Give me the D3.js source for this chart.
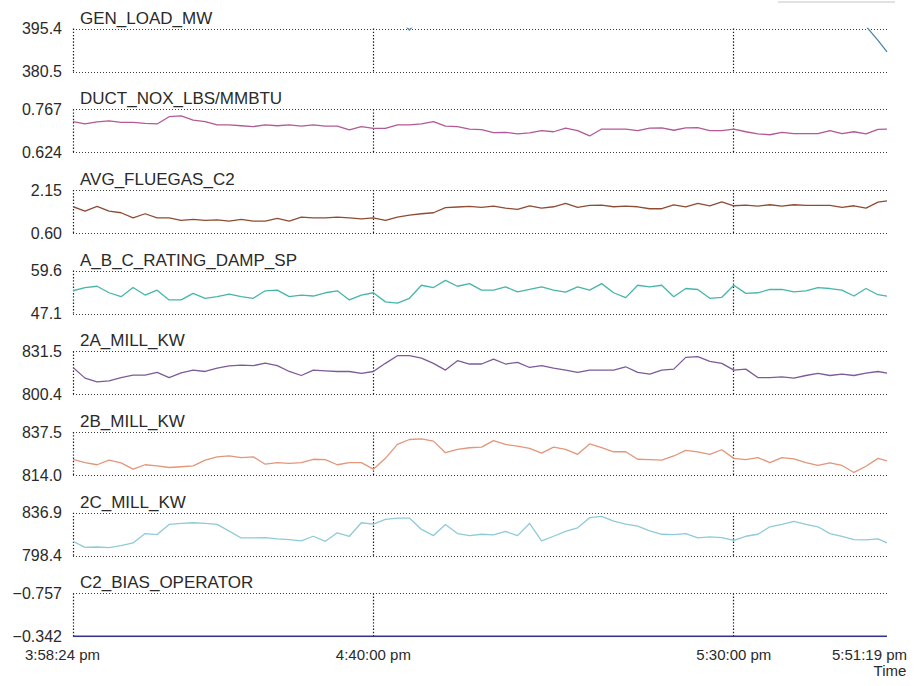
<!DOCTYPE html>
<html><head><meta charset="utf-8">
<script src="https://cdn.jsdelivr.net/npm/d3@7"></script>
<style>body{margin:0;background:#fff;} svg{display:block;}</style>
</head><body><svg id="chart" width="920" height="686"></svg>
<script>
// ---------- DATA ----------
const panelNames = ["GEN_LOAD_MW","DUCT_NOX_LBS/MMBTU","AVG_FLUEGAS_C2","A_B_C_RATING_DAMP_SP","2A_MILL_KW","2B_MILL_KW","2C_MILL_KW","C2_BIAS_OPERATOR"];
const topLabels = ["395.4","0.767","2.15","59.6","831.5","837.5","836.9","\u22120.757"];
const bottomLabels = ["380.5","0.624","0.60","47.1","800.4","814.0","798.4","\u22120.342"];
const topValues = [395.4,0.767,2.15,59.6,831.5,837.5,836.9,-0.757];
const bottomValues = [380.5,0.624,0.60,47.1,800.4,814.0,798.4,-0.342];
const seriesColors = ["#4f86a8","#b25a95","#8e4c33","#47b6aa","#7c5b98","#e2967a","#8fcad8","#34348a"];
const timeTickLabels = ["3:58:24 pm","4:40:00 pm","5:30:00 pm","5:51:19 pm"];
const gridTimeLabels = ["3:58:24","4:40:00","5:30:00"];
const startTime = new Date(2000,0,1,15,58,24);
const endTime = new Date(2000,0,1,17,51,19);
const sampleIntervalSec = 100; // samples every 100 s, last sample at end time

const genLoad = [400.1,400.4,399.8,400.6,401.0,400.3,399.9,400.5,400.8,400.2,
 399.7,400.1,400.6,400.9,400.3,399.8,400.2,400.7,400.4,399.9,
 400.3,400.8,400.1,399.6,400.0,400.4,399.8,399.0,394.9,399.2,
 400.1,400.5,400.9,401.2,400.8,400.3,400.6,401.0,400.7,400.2,
 399.9,400.4,400.8,400.5,400.1,399.8,400.2,400.6,400.9,400.4,
 400.0,400.3,400.7,401.1,400.8,400.2,399.9,400.3,400.6,400.2,
 399.8,400.1,400.4,399.9,399.5,398.2,396.2,391.3,387.3];
const ductNox = [0.726,0.718,0.725,0.728,0.723,0.723,0.720,0.718,0.742,0.745,0.731,0.726,0.715,0.715,0.712,0.709,0.715,0.712,0.715,0.711,0.715,0.711,0.711,0.698,0.709,0.703,0.703,0.715,0.715,0.718,0.726,0.711,0.709,
 0.701,0.699,0.689,0.690,0.685,0.688,0.696,0.692,0.704,0.696,0.678,0.701,0.701,0.701,0.696,0.704,0.705,0.697,0.705,0.706,0.696,0.696,0.701,0.692,0.685,0.682,0.690,0.686,0.686,0.686,0.696,0.686,0.692,0.685,0.700,0.701];
const avgFluegas = [1.545,1.387,1.557,1.387,1.327,1.145,1.290,1.145,1.145,1.048,1.084,1.048,1.072,1.024,1.084,1.024,1.024,1.121,1.024,1.169,1.145,1.145,1.169,1.145,1.109,1.145,1.048,1.169,1.242,1.290,1.327,1.508,1.533,
 1.554,1.518,1.566,1.494,1.447,1.578,1.494,1.542,1.661,1.518,1.590,1.602,1.542,1.566,1.542,1.471,1.471,1.614,1.542,1.661,1.578,1.721,1.578,1.602,1.566,1.614,1.566,1.614,1.590,1.590,1.590,1.518,1.578,1.494,1.709,1.757];
const ratingDamp = [53.73,54.68,55.05,53.16,52.02,54.68,52.50,53.92,51.08,51.08,52.97,51.55,52.02,52.78,52.02,51.55,53.73,53.92,52.02,52.50,52.21,53.16,53.73,51.08,52.50,53.16,50.51,50.13,51.55,55.34,54.68,56.76,55.05,
 55.81,53.92,53.92,54.87,53.44,54.11,54.87,53.92,53.35,54.87,53.92,55.81,53.16,51.74,55.34,54.87,55.34,52.02,54.39,54.11,51.55,51.83,55.34,52.97,53.16,54.11,54.11,53.44,53.73,54.68,54.39,53.92,52.21,54.39,52.59,52.21];
const mill2A = [819.8,812.1,809.4,810.1,812.5,814.2,814.2,816.2,812.5,815.9,817.9,816.9,819.3,821.0,821.5,821.1,823.0,821.1,816.9,814.0,817.9,817.4,816.9,816.9,815.5,816.9,822.8,828.3,828.3,826.6,822.8,817.9,824.7,
 822.3,822.3,825.9,822.3,823.5,819.8,821.1,819.3,817.9,816.2,817.9,817.9,817.9,820.3,816.2,815.0,817.9,818.6,827.1,827.6,824.2,822.8,817.9,818.6,812.5,812.5,813.0,812.1,814.0,815.5,814.0,815.0,814.0,815.7,816.9,815.7];
const mill2B = [822.6,820.8,819.6,822.1,820.6,817.2,819.6,819.0,818.1,818.5,819.0,822.1,823.9,824.4,823.5,823.9,819.9,820.8,820.3,820.8,822.6,822.4,819.6,820.8,820.8,817.2,823.1,830.7,833.4,833.7,832.5,826.2,828.0,
 828.9,829.2,832.8,830.7,829.8,828.5,826.0,829.2,828.0,825.3,831.0,828.9,826.7,826.7,822.6,822.4,822.1,824.4,827.5,826.6,825.3,827.8,823.1,822.4,823.5,820.8,823.5,822.8,820.8,819.2,820.6,819.2,815.4,818.8,823.1,821.7];
const mill2C = [811.3,805.9,806.2,805.6,807.4,809.8,818.2,817.3,826.4,827.3,827.9,827.3,826.4,820.4,814.3,814.3,814.6,813.4,812.8,811.6,815.8,811.3,818.9,815.8,827.9,826.7,830.9,832.1,832.1,821.9,816.4,826.4,818.2,
 816.4,817.6,817.0,820.1,816.4,827.3,811.6,815.8,820.1,823.4,832.4,833.6,829.4,826.7,824.9,820.7,817.6,817.3,818.2,814.3,815.2,814.6,812.2,815.8,817.6,824.3,826.4,829.1,826.4,824.3,818.2,815.8,812.8,812.5,813.4,809.8];
const c2Bias = [-0.342,-0.342,-0.342,-0.342,-0.342,-0.342,-0.342,-0.342,-0.342,-0.342,
 -0.342,-0.342,-0.342,-0.342,-0.342,-0.342,-0.342,-0.342,-0.342,-0.342,
 -0.342,-0.342,-0.342,-0.342,-0.342,-0.342,-0.342,-0.342,-0.342,-0.342,
 -0.342,-0.342,-0.342,-0.342,-0.342,-0.342,-0.342,-0.342,-0.342,-0.342,
 -0.342,-0.342,-0.342,-0.342,-0.342,-0.342,-0.342,-0.342,-0.342,-0.342,
 -0.342,-0.342,-0.342,-0.342,-0.342,-0.342,-0.342,-0.342,-0.342,-0.342,
 -0.342,-0.342,-0.342,-0.342,-0.342,-0.342,-0.342,-0.342,-0.342];

// ---------- LAYOUT ----------
const series = [genLoad, ductNox, avgFluegas, ratingDamp, mill2A, mill2B, mill2C, c2Bias];
const FONT = "'Liberation Sans', Arial, sans-serif";
const left = 73, right = 887, top0 = 28.5, step = 80.7, ph = 43;

const parseClock = s => { const [h,m,sec] = s.split(":").map(Number); return new Date(2000,0,1,h+12,m,sec); };
const gridTimes = gridTimeLabels.map(parseClock);
const tickTimes = [startTime, gridTimes[1], gridTimes[2], endTime];

const nSamples = genLoad.length;
const times = d3.range(nSamples).map(i => i === nSamples - 1 ? endTime : new Date(+startTime + i * sampleIntervalSec * 1000));

const svg = d3.select("#chart").attr("font-family", FONT);
const x = d3.scaleTime().domain([startTime, endTime]).range([left, right]);

// faint box edge at top right
svg.append("line").attr("x1", 778).attr("x2", 895).attr("y1", 2).attr("y2", 2)
  .attr("stroke", "#e2e2e2").attr("stroke-width", 2);

const defs = svg.append("defs");

panelNames.forEach((name, i) => {
  const pTop = top0 + i * step, pBot = pTop + ph;
  const y = d3.scaleLinear().domain([bottomValues[i], topValues[i]]).range([pBot, pTop]);
  const g = svg.append("g");

  defs.append("clipPath").attr("id", "clip" + i).append("rect")
    .attr("x", left).attr("y", pTop - 0.8).attr("width", right - left + 2).attr("height", ph + 1.6);

  // horizontal dotted grid lines
  g.selectAll("line.hgrid").data([topValues[i], bottomValues[i]]).join("line")
    .attr("class", "hgrid")
    .attr("x1", left).attr("x2", right)
    .attr("y1", d => Math.round(y(d)) + 0.5).attr("y2", d => Math.round(y(d)) + 0.5)
    .attr("stroke", "#3a3a3a").attr("stroke-width", 1).attr("stroke-dasharray", "1,2");

  // vertical dotted grid lines
  g.selectAll("line.vgrid").data(gridTimes).join("line")
    .attr("class", "vgrid")
    .attr("x1", d => Math.round(x(d)) + 0.5).attr("x2", d => Math.round(x(d)) + 0.5)
    .attr("y1", pTop).attr("y2", pBot)
    .attr("stroke", "#1a1a1a").attr("stroke-width", 1.2).attr("stroke-dasharray", "1.4,1.8");

  // data line
  g.append("path").datum(series[i])
    .attr("clip-path", `url(#clip${i})`)
    .attr("fill", "none").attr("stroke", seriesColors[i])
    .attr("stroke-width", i === 7 ? 1.6 : 1.3).attr("stroke-linejoin", "round")
    .attr("d", d3.line().x((d, j) => x(times[j])).y(d => y(d)));

  // y axis (two tick labels)
  const ax = d3.axisLeft(y).tickValues([topValues[i], bottomValues[i]]).tickSize(0).tickPadding(11)
    .tickFormat((d, j) => j === 0 ? topLabels[i] : bottomLabels[i]);
  const ag = g.append("g").attr("transform", `translate(${left},0)`).call(ax);
  ag.select(".domain").remove();
  ag.attr("font-family", FONT);
  ag.selectAll("text").attr("font-size", 16).attr("fill", "#2a2a2a");

  // panel title
  g.append("text").attr("x", 80).attr("y", pTop - 5).text(name)
    .attr("font-size", 17).attr("fill", "#2a2a2a");
});

// time axis
const lastBot = top0 + 7 * step + ph;
const xa = d3.axisBottom(x).tickValues(tickTimes).tickSize(0).tickPadding(13)
  .tickFormat((d, j) => timeTickLabels[j]);
const xg = svg.append("g").attr("transform", `translate(0,${lastBot})`).call(xa);
xg.select(".domain").remove();
xg.attr("font-family", FONT);
const shifts = [-11, 0, 0, -18];
xg.selectAll("text").attr("font-size", 15).attr("fill", "#2a2a2a")
  .attr("dx", (d, j) => shifts[j]);

svg.append("text").attr("x", 890).attr("y", 676).attr("text-anchor", "middle")
  .attr("font-size", 15).attr("fill", "#2a2a2a").text("Time");
</script>
</body></html>
